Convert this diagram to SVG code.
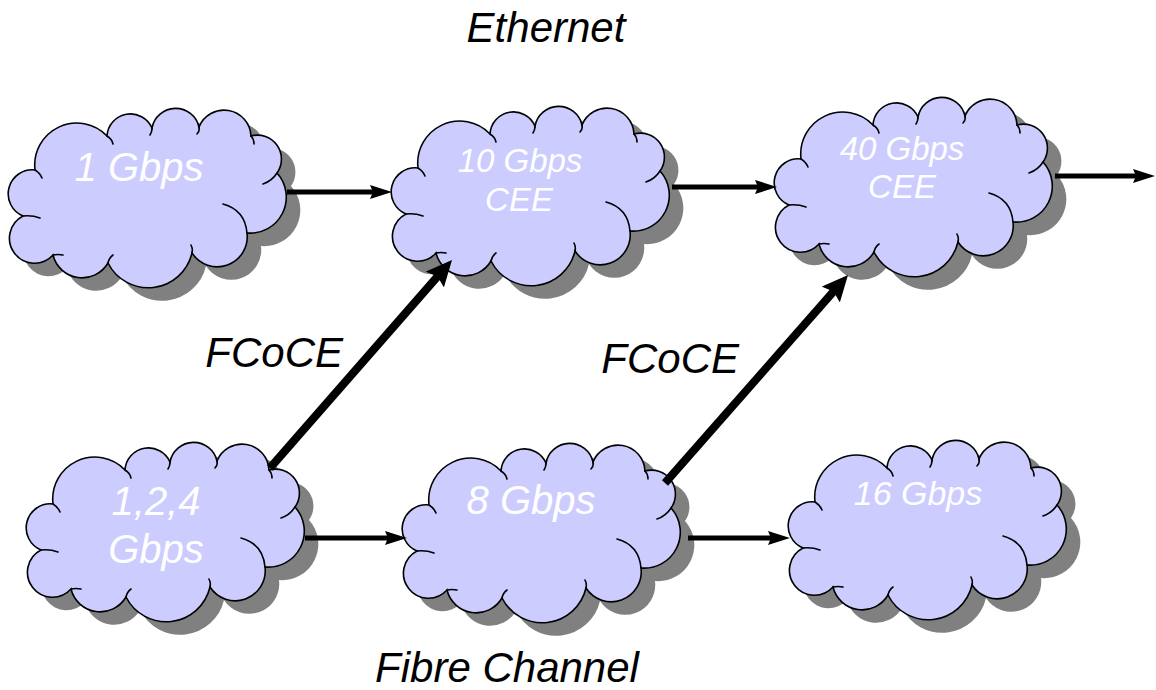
<svg xmlns="http://www.w3.org/2000/svg" xmlns:xlink="http://www.w3.org/1999/xlink" width="1156" height="690" viewBox="0 0 1156 690">
<style>
.shadow{fill:#808080;stroke:none}
.cloud{fill:#ccccff;stroke:#000;stroke-width:1.6}
.tails{fill:none;stroke:#000;stroke-width:1.6;stroke-linecap:round}
.ctext{fill:#fff;font-family:"Liberation Sans",Arial,Helvetica,sans-serif;font-style:italic;text-anchor:middle}
.label{fill:#000;font-family:"Liberation Sans",Arial,Helvetica,sans-serif;font-style:italic;font-size:42px}
.thin{stroke:#000;stroke-width:5;fill:none;marker-end:url(#headThin)}
.thick{stroke:#000;stroke-width:8;fill:none;marker-end:url(#headThick)}
</style>
<defs>
<path id="cloudShape" d="M26,64 A42,42 0 0 1 98,30 A23.5,23.5 0 0 1 143,22 A24,24 0 0 1 190,21 A27,27 0 0 1 242,30 A24,24 0 0 1 268,67 A36,36 0 0 1 238,127 A30,30 0 0 1 183,147 A45,45 0 0 1 99,157 A30,30 0 0 1 44,149 A25,25 0 1 1 14,110 A24,24 0 0 1 26,64 Z"/>
<path id="cloudTails" d="M26,64 q5,3 7,8 M98,30 q5,3 6,8 M143,22 q0,4 -2,7 M190,21 q1,4 -2,7 M242,30 q3,3 3,8 M268,67 q-5,8 -14,11 M238,127 Q236,104 214,98 M183,147 q1,-4 -1,-8 M99,157 q1,-5 5,-8 M44,149 q5,-1 10,0 M14,110 q9,-1 17,2"/>
<marker id="headThin" markerUnits="userSpaceOnUse" markerWidth="22" markerHeight="14" refX="12" refY="7" orient="auto">
<path d="M0,0 L22,7 L0,14 L3,7 Z" fill="#000"/>
</marker>
<marker id="headThick" markerUnits="userSpaceOnUse" markerWidth="26" markerHeight="24" refX="14" refY="12" orient="auto">
<path d="M0,0 L26,12 L0,24 L4,12 Z" fill="#000"/>
</marker>
</defs>
<rect width="1156" height="690" fill="#fff"/>

<g id="eth1">
<g transform="translate(9,106)">
<use xlink:href="#cloudShape" class="shadow" transform="translate(14,13)"/>
<use xlink:href="#cloudShape" class="cloud"/>
<use xlink:href="#cloudTails" class="tails"/>
</g>
<text class="ctext" x="139" y="181" font-size="40">1 Gbps</text>
</g>

<g id="eth10">
<g transform="translate(392,104)">
<use xlink:href="#cloudShape" class="shadow" transform="translate(14,13)"/>
<use xlink:href="#cloudShape" class="cloud"/>
<use xlink:href="#cloudTails" class="tails"/>
</g>
<text class="ctext" x="520" y="172" font-size="33">10 Gbps</text>
<text class="ctext" x="519" y="211" font-size="33">CEE</text>
</g>

<g id="eth40">
<g transform="translate(775,95)">
<use xlink:href="#cloudShape" class="shadow" transform="translate(14,13)"/>
<use xlink:href="#cloudShape" class="cloud"/>
<use xlink:href="#cloudTails" class="tails"/>
</g>
<text class="ctext" x="902" y="160" font-size="33">40 Gbps</text>
<text class="ctext" x="902" y="198" font-size="33">CEE</text>
</g>

<g id="fc124">
<g transform="translate(27,440)">
<use xlink:href="#cloudShape" class="shadow" transform="translate(14,13)"/>
<use xlink:href="#cloudShape" class="cloud"/>
<use xlink:href="#cloudTails" class="tails"/>
</g>
<text class="ctext" x="156" y="515" font-size="40">1,2,4</text>
<text class="ctext" x="156" y="563" font-size="40">Gbps</text>
</g>

<g id="fc8">
<g transform="translate(403,441)">
<use xlink:href="#cloudShape" class="shadow" transform="translate(14,13)"/>
<use xlink:href="#cloudShape" class="cloud"/>
<use xlink:href="#cloudTails" class="tails"/>
</g>
<text class="ctext" x="531" y="514" font-size="40">8 Gbps</text>
</g>

<g id="fc16">
<g transform="translate(789,438)">
<use xlink:href="#cloudShape" class="shadow" transform="translate(14,13)"/>
<use xlink:href="#cloudShape" class="cloud"/>
<use xlink:href="#cloudTails" class="tails"/>
</g>
<text class="ctext" x="918" y="505" font-size="34">16 Gbps</text>
</g>

<g id="connectors">
<line class="thin" x1="287" y1="192" x2="382" y2="192"/>
<line class="thin" x1="672" y1="187" x2="767" y2="187"/>
<line class="thin" x1="1055" y1="176" x2="1145" y2="176"/>
<line class="thin" x1="305" y1="538" x2="397" y2="538"/>
<line class="thin" x1="688" y1="538" x2="780" y2="538"/>
<line class="thick" x1="270" y1="468" x2="444.1" y2="269"/>
<line class="thick" x1="665" y1="483" x2="840.1" y2="284"/>
</g>

<g id="labels">
<text class="label" x="546" y="42" text-anchor="middle">Ethernet</text>
<text class="label" x="507" y="682" text-anchor="middle">Fibre Channel</text>
<text class="label" x="343" y="367" text-anchor="end">FCoCE</text>
<text class="label" x="739" y="373" text-anchor="end">FCoCE</text>
</g>
</svg>
